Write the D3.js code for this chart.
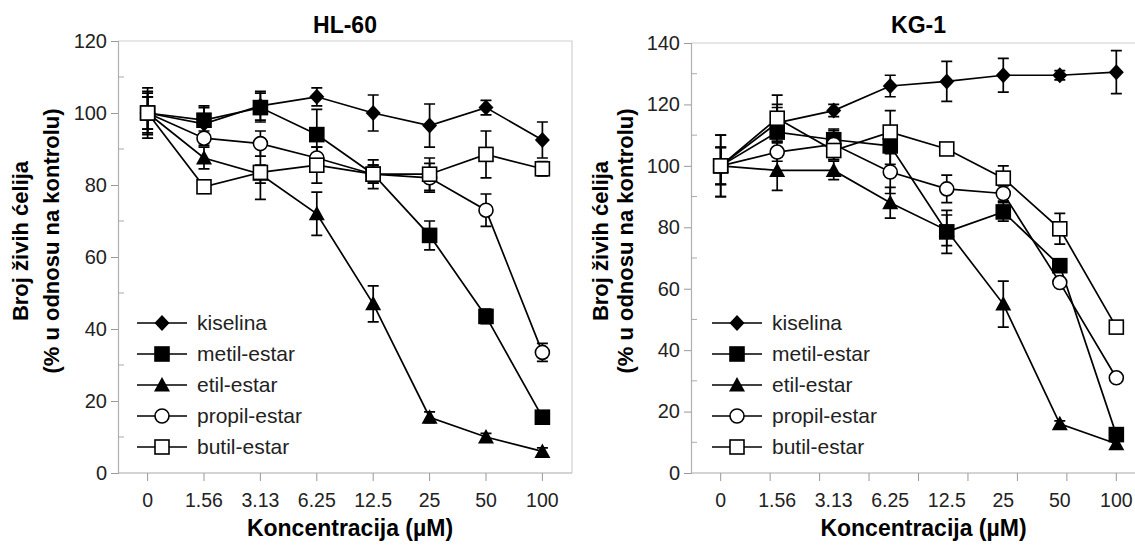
<!DOCTYPE html>
<html>
<head>
<meta charset="utf-8">
<script src="https://cdn.jsdelivr.net/npm/d3@7"></script>
<style>
  body { margin: 0; background: #fff; }
  svg { display: block; font-family: "Liberation Sans", Arial, sans-serif; }
</style>
</head>
<body>
<svg id="chart" width="1135" height="546"></svg>
<script>
// koncentracije (uM) - kategorije na x osi
const concentrations = ["0", "1.56", "3.13", "6.25", "12.5", "25", "50", "100"];
const seriesNames = ["kiselina", "metil-estar", "etil-estar", "propil-estar", "butil-estar"];
const seriesShapes = ["diamond", "filledSquare", "triangle", "circle", "openSquare"];

// HL-60
const hlKiselina = [100, 97, 102, 104.5, 100, 96.5, 101.5, 92.5];
const hlMetil    = [100, 98, 101.5, 94, 83, 66, 43.5, 15.5];
const hlEtil     = [100, 87.5, 83, 72, 47, 15.5, 10, 6];
const hlPropil   = [100, 93, 91.5, 87.5, 83, 82, 73, 33.5];
const hlButil    = [100, 79.5, 83.5, 85.5, 83, 83, 88.5, 84.5];
const hlKiselinaErr = [5.5, 4.5, 4, 2.5, 5, 6, 2, 5];
const hlMetilErr    = [4.5, 4, 4, 7, 4, 4, 2, 1];
const hlEtilErr     = [7, 3, 2.5, 6, 5, 1.5, 1, 1];
const hlPropilErr   = [6, 2, 3.5, 3, 2.5, 4, 4.5, 2.5];
const hlButilErr    = [4.5, 1, 7.5, 5, 2.5, 4.5, 6.5, 2];

// KG-1
const kgKiselina = [100, 114, 118, 126, 127.5, 129.5, 129.5, 130.5];
const kgMetil    = [100, 111, 108.5, 106.5, 78.5, 85, 67.5, 12.5];
const kgEtil     = [100, 98.5, 98.5, 88, 79, 55, 16, 9.5];
const kgPropil   = [100, 104.5, 107, 98, 92.5, 91, 62, 31];
const kgButil    = [100, 115.5, 105, 111, 105.5, 96, 79.5, 47.5];
const kgKiselinaErr = [6, 6, 2, 3.5, 6.5, 5.5, 1.5, 7];
const kgMetilErr    = [10, 8, 3, 6, 7, 3, 2, 1];
const kgEtilErr     = [10, 6.5, 3, 5, 5, 7.5, 1, 1];
const kgPropilErr   = [6, 3, 5, 7, 4.5, 2.5, 1, 1];
const kgButilErr    = [6, 7.5, 3, 7, 1.5, 4, 5, 1];

const svg = d3.select("#chart");

function drawMarker(g, shape, x, y) {
    if (shape === "diamond") {
        g.append("path").attr("d", `M${x},${y - 8}L${x + 7.5},${y}L${x},${y + 8}L${x - 7.5},${y}Z`)
            .attr("fill", "#000");
    } else if (shape === "filledSquare" || shape === "openSquare") {
        g.append("rect").attr("x", x - 7).attr("y", y - 7).attr("width", 14).attr("height", 14)
            .attr("fill", shape === "filledSquare" ? "#000" : "#fff")
            .attr("stroke", "#000").attr("stroke-width", 1.6);
    } else if (shape === "triangle") {
        g.append("path").attr("d", `M${x},${y - 8}L${x + 8},${y + 6.5}L${x - 8},${y + 6.5}Z`)
            .attr("fill", "#000");
    } else {
        g.append("circle").attr("cx", x).attr("cy", y).attr("r", 7)
            .attr("fill", "#fff").attr("stroke", "#000").attr("stroke-width", 1.6);
    }
}

function drawPanel(cfg) {
    const { left, right, top, bottom, yMax, title, series, errors, evenTicks } = cfg;
    const g = svg.append("g");

    const x = d3.scalePoint().domain(concentrations).range([left, right]).padding(0.525);
    const y = d3.scaleLinear().domain([0, yMax]).range([bottom, top]);

    // okvir
    g.append("path")
        .attr("d", `M${left},${top}H${right}V${bottom}`)
        .attr("fill", "none").attr("stroke", "#d0d0d0").attr("stroke-width", 1.2);

    // y osa
    const yAxis = g.append("g").attr("transform", `translate(${left},0)`)
        .call(d3.axisLeft(y).tickValues(d3.range(0, yMax + 1, 20)).tickSize(7).tickPadding(4));
    yAxis.select(".domain").attr("stroke", "#b0b0b0").attr("stroke-width", 1.2);
    yAxis.selectAll(".tick line").attr("stroke", "#999");
    yAxis.selectAll(".tick text").attr("font-size", 20).attr("fill", "#222")
        .attr("font-family", "Liberation Sans, Arial, sans-serif");
    // sporedni podeoci ka unutra
    g.selectAll(".minor").data(d3.range(10, yMax, 20)).enter().append("line")
        .attr("x1", left).attr("x2", left + 6)
        .attr("y1", d => y(d)).attr("y2", d => y(d))
        .attr("stroke", "#aaa");

    // x osa
    const xg = g.append("g");
    xg.append("line").attr("x1", left).attr("x2", right).attr("y1", bottom).attr("y2", bottom)
        .attr("stroke", "#aaa").attr("stroke-width", 1.2);
    let tickPos = concentrations.map(c => x(c));
    if (evenTicks) {
        const a = x(concentrations[0]), b = x(concentrations[concentrations.length - 1]);
        tickPos = d3.range(9).map(i => a + i * (b - a) / 8);
    }
    xg.selectAll(".xt").data(tickPos).enter().append("line")
        .attr("x1", d => d).attr("x2", d => d).attr("y1", bottom).attr("y2", bottom + 8)
        .attr("stroke", "#999");
    xg.selectAll(".xl").data(concentrations).enter().append("text")
        .attr("x", d => x(d)).attr("y", 507)
        .attr("text-anchor", "middle").attr("font-size", 19.5).attr("fill", "#222")
        .text(d => d);

    // naslovi
    const cx = (left + right) / 2;
    g.append("text").attr("x", cx).attr("y", 33).attr("text-anchor", "middle")
        .attr("font-size", 23).attr("font-weight", "bold").text(title);
    g.append("text").attr("x", cx + 5).attr("y", 536).attr("text-anchor", "middle")
        .attr("font-size", 23).attr("font-weight", "bold").text("Koncentracija (µM)");
    const yt = g.append("text").attr("transform", `translate(${cfg.yTitleX},241) rotate(-90)`)
        .attr("text-anchor", "middle").attr("font-size", 22).attr("font-weight", "bold");
    yt.append("tspan").attr("x", 0).attr("dy", 0).text("Broj živih ćelija");
    yt.append("tspan").attr("x", 0).attr("dy", cfg.yTitleGap).text("(% u odnosu na kontrolu)");

    // greske i linije
    const line = d3.line().x((d, i) => x(concentrations[i])).y(d => y(d));
    series.forEach((vals, si) => {
        vals.forEach((v, i) => {
            const px = x(concentrations[i]);
            const e = errors[si][i];
            g.append("path")
                .attr("d", `M${px},${y(v - e)}V${y(v + e)}M${px - 5.5},${y(v + e)}H${px + 5.5}M${px - 5.5},${y(v - e)}H${px + 5.5}`)
                .attr("stroke", "#000").attr("stroke-width", 1.7).attr("fill", "none");
        });
        g.append("path").datum(vals).attr("d", line)
            .attr("fill", "none").attr("stroke", "#000").attr("stroke-width", 1.7);
    });
    series.forEach((vals, si) => {
        vals.forEach((v, i) => drawMarker(g, seriesShapes[si], x(concentrations[i]), y(v)));
    });

    // legenda
    seriesNames.forEach((name, i) => {
        const ly = 323 + i * 31;
        const lx = left + cfg.legendOffset;
        g.append("line").attr("x1", lx).attr("x2", lx + 50).attr("y1", ly).attr("y2", ly)
            .attr("stroke", "#000").attr("stroke-width", 1.7);
        drawMarker(g, seriesShapes[i], lx + 25, ly);
        g.append("text").attr("x", lx + 60).attr("y", ly + 7).attr("font-size", 21)
            .attr("fill", "#222").text(name);
    });
}

drawPanel({
    left: 118, right: 572, top: 41, bottom: 473, yMax: 120, title: "HL-60",
    series: [hlKiselina, hlMetil, hlEtil, hlPropil, hlButil],
    errors: [hlKiselinaErr, hlMetilErr, hlEtilErr, hlPropilErr, hlButilErr],
    evenTicks: false, yTitleX: 28, yTitleGap: 31, legendOffset: 19
});

drawPanel({
    left: 691, right: 1146, top: 43, bottom: 473, yMax: 140, title: "KG-1",
    series: [kgKiselina, kgMetil, kgEtil, kgPropil, kgButil],
    errors: [kgKiselinaErr, kgMetilErr, kgEtilErr, kgPropilErr, kgButilErr],
    evenTicks: true, yTitleX: 608, yTitleGap: 25, legendOffset: 21
});
</script>
</body>
</html>
